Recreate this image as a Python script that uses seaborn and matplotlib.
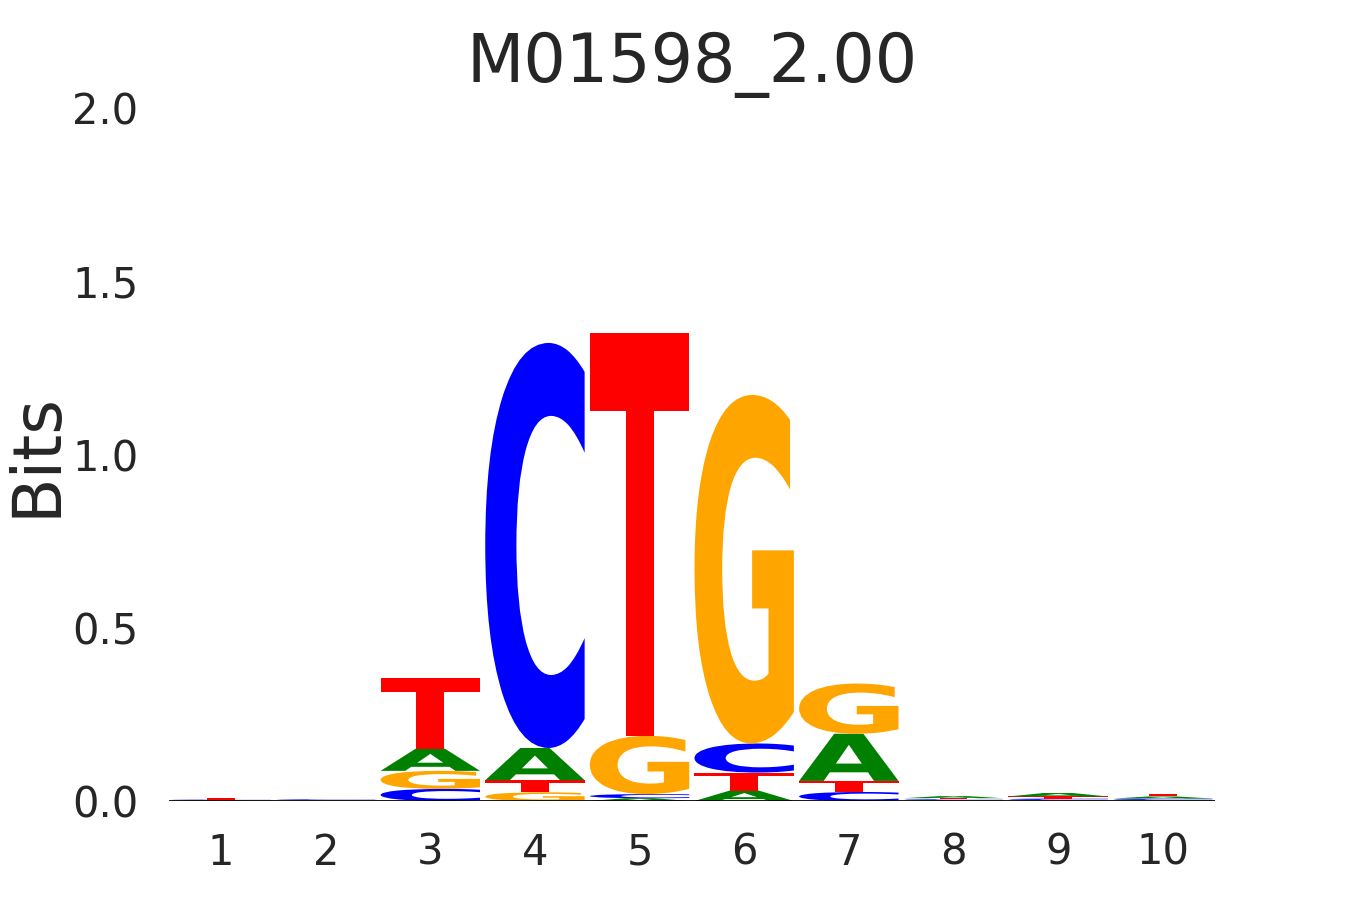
import numpy as np
import pandas as pd
import seaborn as sns
import matplotlib
matplotlib.use("Agg")
import matplotlib.pyplot as plt
from matplotlib.textpath import TextPath
from matplotlib.font_manager import FontProperties
from matplotlib.patches import PathPatch
from matplotlib.transforms import Affine2D

# information content (bits) per letter
positions = [1, 2, 3, 4, 5, 6, 7, 8, 9, 10]
bits_A = [0.001, 0.001, 0.064, 0.093, 0.008, 0.030, 0.136, 0.006, 0.010, 0.006]
bits_C = [0.002, 0.002, 0.035, 1.169, 0.012, 0.084, 0.026, 0.003, 0.004, 0.004]
bits_G = [0.001, 0.001, 0.052, 0.025, 0.168, 1.006, 0.145, 0.002, 0.003, 0.003]
bits_T = [0.004, 0.001, 0.203, 0.035, 1.163, 0.052, 0.032, 0.003, 0.006, 0.008]

df = pd.DataFrame({'A': bits_A, 'C': bits_C, 'G': bits_G, 'T': bits_T}, index=positions)
colors = {'A': '#008000', 'C': '#0000ff', 'G': '#ffa500', 'T': '#ff0000'}

sns.set_style("white")
plt.rcParams['font.family'] = ['DejaVu Sans']

fig, ax = plt.subplots(figsize=(13.5, 9), dpi=100)

fp = FontProperties(family='DejaVu Sans', weight='bold')
width = 0.95


def draw_letter(ch, x, bottom, height):
    tp = TextPath((0, 0), ch, size=1, prop=fp)
    ext = tp.get_extents()
    t = (Affine2D()
         .translate(-ext.x0, -ext.y0)
         .scale(width / ext.width, height / ext.height)
         .translate(x - width / 2, bottom))
    path = t.transform_path(tp)
    ax.add_patch(PathPatch(path, facecolor=colors[ch], edgecolor='none'))


# stack letters smallest at the bottom
for pos, row in df.iterrows():
    bottom = 0
    for ch, h in row.sort_values().items():
        if h > 0:
            draw_letter(ch, pos, bottom, h)
        bottom += h

ax.axhline(0, color='black', linewidth=2, zorder=5)
ax.set_xlim(0.5, 10.5)
ax.set_ylim(0, 2)
ax.set_xticks(positions)
ax.set_yticks([0, 0.5, 1.0, 1.5, 2.0])
ax.set_yticklabels(['0.0', '0.5', '1.0', '1.5', '2.0'])
ax.tick_params(axis='both', length=0, labelsize=30, colors='#262626', pad=22)
ax.set_ylabel('Bits', fontsize=48, color='#262626', labelpad=2)
ax.set_title('M01598_2.00', fontsize=48, color='#262626', pad=19)
sns.despine(ax=ax, left=True, bottom=True)

plt.savefig('out.png', dpi=100)
